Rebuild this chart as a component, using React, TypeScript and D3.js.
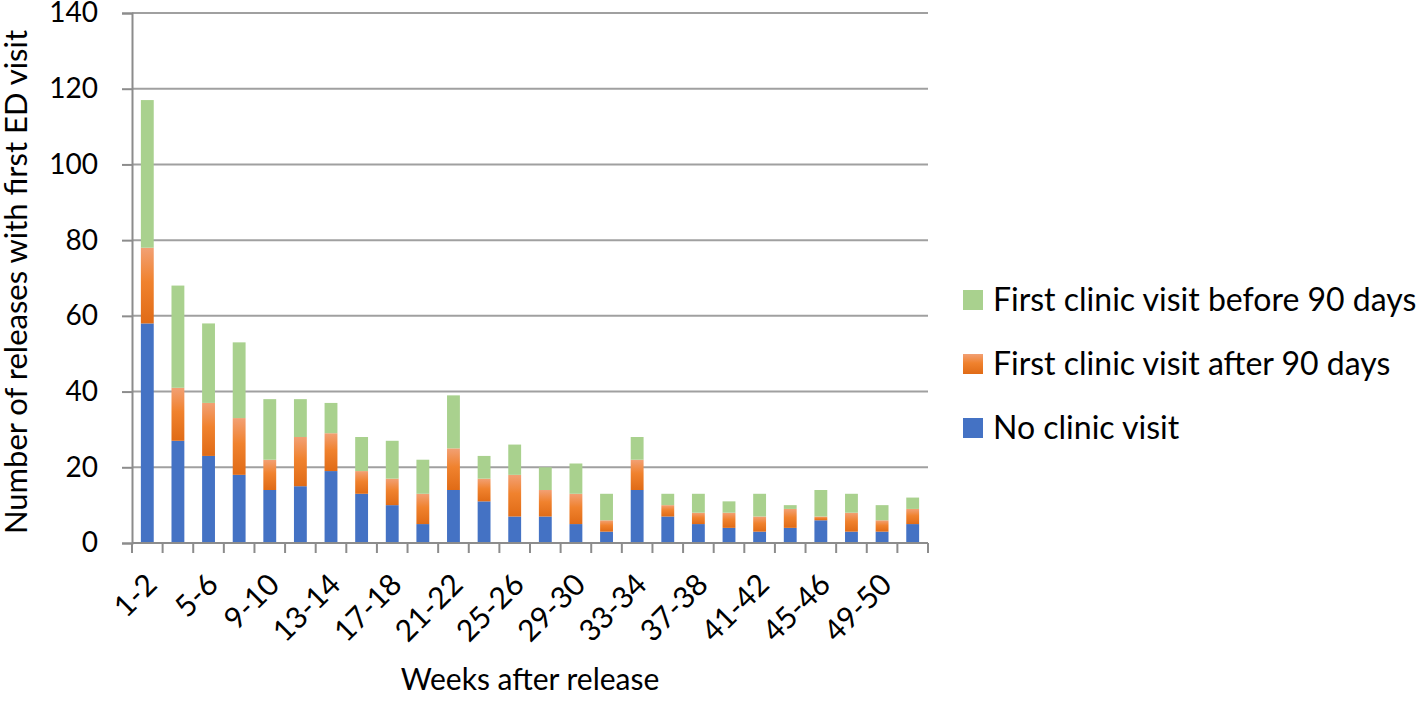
import React, { useRef, useEffect } from 'react';
import * as d3 from 'd3';

const weeks = [
  '1-2', '3-4', '5-6', '7-8', '9-10', '11-12', '13-14', '15-16', '17-18', '19-20',
  '21-22', '23-24', '25-26', '27-28', '29-30', '31-32', '33-34', '35-36', '37-38', '39-40',
  '41-42', '43-44', '45-46', '47-48', '49-50', '51-52'
];
const noClinic = [58, 27, 23, 18, 14, 15, 19, 13, 10, 5, 14, 11, 7, 7, 5, 3, 14, 7, 5, 4, 3, 4, 6, 3, 3, 5];
const after90 = [20, 14, 14, 15, 8, 13, 10, 6, 7, 8, 11, 6, 11, 7, 8, 3, 8, 3, 3, 4, 4, 5, 1, 5, 3, 4];
const before90 = [39, 27, 21, 20, 16, 10, 8, 9, 10, 9, 14, 6, 8, 6, 8, 7, 6, 3, 5, 3, 6, 1, 7, 5, 4, 3];
const yTicks = [0, 20, 40, 60, 80, 100, 120, 140];

const seriesKeys = ['noClinic', 'after90', 'before90'];
const seriesNames = ['No clinic visit', 'First clinic visit after 90 days', 'First clinic visit before 90 days'];
const colors = ['#4472C4', 'url(#orangeGrad)', '#A9D18E'];

const W = 1418;
const H = 701;
const FONT = 'Lato, "Open Sans", sans-serif';

const App: React.FC = () => {
  const ref = useRef<SVGSVGElement | null>(null);

  useEffect(() => {
    if (!ref.current) return;
    const svg = d3.select(ref.current);
    svg.selectAll('*').remove();

    const margin = { top: 13, right: 490, bottom: 158, left: 132 };
    const innerWidth = W - margin.left - margin.right;
    const innerHeight = H - margin.top - margin.bottom;

    const defs = svg.append('defs');
    const grad = defs.append('linearGradient')
      .attr('id', 'orangeGrad')
      .attr('x1', 0).attr('y1', 0).attr('x2', 0).attr('y2', 1);
    grad.append('stop').attr('offset', '0%').attr('stop-color', '#F2A074');
    grad.append('stop').attr('offset', '45%').attr('stop-color', '#F0822E');
    grad.append('stop').attr('offset', '100%').attr('stop-color', '#E06B16');

    const table = weeks.map((w, i) => ({
      week: w,
      noClinic: noClinic[i],
      after90: after90[i],
      before90: before90[i]
    }));

    const x = d3.scaleBand().domain(weeks).range([0, innerWidth]).paddingInner(0.58).paddingOuter(0.29);
    const y = d3.scaleLinear().domain([0, 140]).range([innerHeight, 0]);

    const g = svg.append('g').attr('transform', `translate(${margin.left},${margin.top})`);

    // gridlines
    g.append('g')
      .selectAll('line')
      .data(yTicks.filter(t => t > 0))
      .join('line')
      .attr('x1', 0)
      .attr('x2', innerWidth)
      .attr('y1', d => y(d))
      .attr('y2', d => y(d))
      .attr('stroke', '#A0A0A0')
      .attr('stroke-width', 2);

    // bars
    const stack = d3.stack<any>().keys(seriesKeys);
    const layers = stack(table);
    g.append('g')
      .selectAll('g')
      .data(layers)
      .join('g')
      .attr('fill', (_, i) => colors[i])
      .selectAll('rect')
      .data(d => d)
      .join('rect')
      .attr('x', d => x(d.data.week) as number)
      .attr('width', x.bandwidth())
      .attr('y', d => y(d[1]))
      .attr('height', d => y(d[0]) - y(d[1]));

    // y axis
    const yAxis = g.append('g')
      .call(d3.axisLeft(y).tickValues(yTicks).tickSize(10).tickPadding(24));
    yAxis.select('.domain').attr('stroke', '#8C8C8C').attr('stroke-width', 2);
    yAxis.selectAll('.tick line').attr('stroke', '#8C8C8C').attr('stroke-width', 2);
    yAxis.selectAll('.tick text')
      .attr('font-family', FONT)
      .attr('font-size', 28)
      .attr('fill', '#000');

    // x axis
    const step = x.step();
    const xAxis = g.append('g').attr('transform', `translate(0,${innerHeight})`);
    xAxis.append('line')
      .attr('x1', 0).attr('x2', innerWidth)
      .attr('stroke', '#8C8C8C').attr('stroke-width', 2);
    xAxis.selectAll('line.tk')
      .data(d3.range(weeks.length + 1))
      .join('line')
      .attr('class', 'tk')
      .attr('x1', i => i * step)
      .attr('x2', i => i * step)
      .attr('y1', 0)
      .attr('y2', 10)
      .attr('stroke', '#8C8C8C')
      .attr('stroke-width', 2);
    xAxis.selectAll('text')
      .data(weeks.filter((_, i) => i % 2 === 0))
      .join('text')
      .attr('transform', d => `translate(${(x(d) as number) + x.bandwidth() / 2 + 4},${36}) rotate(-45)`)
      .attr('text-anchor', 'end')
      .attr('dy', '0.35em')
      .attr('font-family', FONT)
      .attr('font-size', 30)
      .attr('fill', '#000')
      .text(d => d);

    // axis titles
    svg.append('text')
      .attr('x', margin.left + innerWidth / 2)
      .attr('y', 690)
      .attr('text-anchor', 'middle')
      .attr('font-family', FONT)
      .attr('font-size', 30)
      .attr('fill', '#000')
      .text('Weeks after release');

    svg.append('text')
      .attr('transform', `translate(27,${margin.top + innerHeight / 2 + 4}) rotate(-90)`)
      .attr('text-anchor', 'middle')
      .attr('font-family', FONT)
      .attr('font-size', 31)
      .attr('fill', '#000')
      .text('Number of releases with first ED visit');

    // legend
    const legendRows = [2, 1, 0];
    const legend = svg.append('g').attr('transform', 'translate(963,300)');
    legendRows.forEach((si, r) => {
      const row = legend.append('g').attr('transform', `translate(0,${r * 64})`);
      row.append('rect')
        .attr('x', 0).attr('y', -10)
        .attr('width', 20).attr('height', 20)
        .attr('fill', colors[si]);
      row.append('text')
        .attr('x', 30)
        .attr('dy', '0.35em')
        .attr('font-family', FONT)
        .attr('font-size', 32)
        .attr('fill', '#000')
        .text(seriesNames[si]);
    });
  }, []);

  return (
    <svg
      ref={ref}
      width={W}
      height={H}
      viewBox={`0 0 ${W} ${H}`}
      style={{ position: 'absolute', left: 0, top: 0, background: '#fff' }}
    />
  );
};

export default App;
